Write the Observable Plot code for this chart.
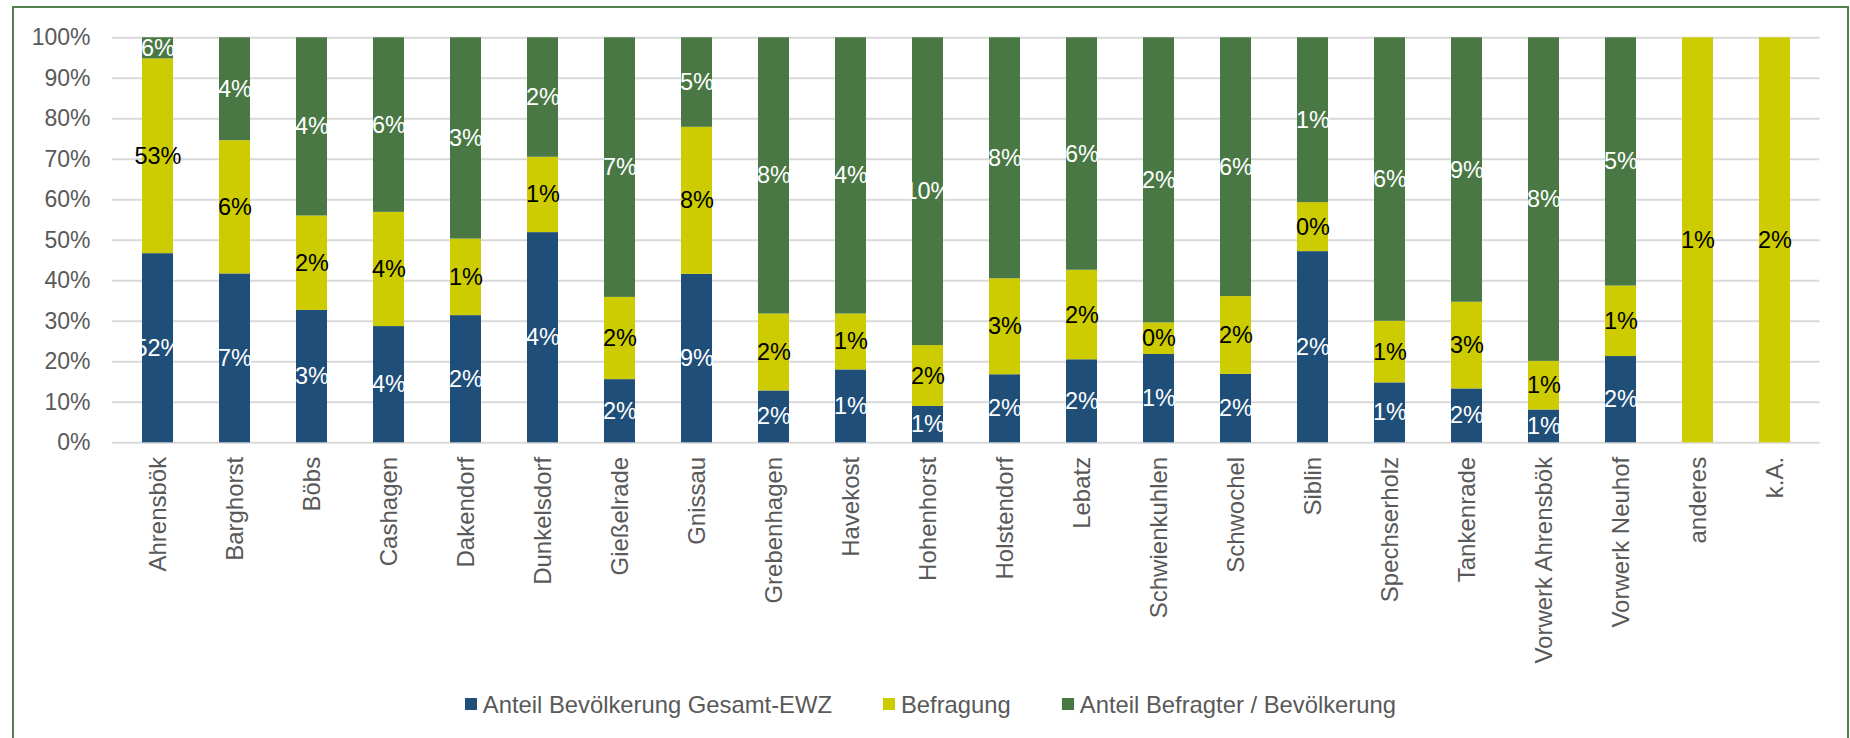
<!DOCTYPE html>
<html>
<head>
<meta charset="utf-8">
<script src="https://cdn.jsdelivr.net/npm/d3@7"></script>
<script src="https://cdn.jsdelivr.net/npm/@observablehq/plot@0.6"></script>
<style>
  html, body { margin: 0; padding: 0; background: #ffffff; }
  body { width: 1850px; height: 738px; overflow: hidden; position: relative; font-family: "Liberation Sans", Arial, sans-serif; }
  #chart { position: absolute; left: 0; top: 0; }
  #frame { position: absolute; left: 11.7px; top: 6.3px; width: 1837.6px; height: 800px; border: 2px solid #52804c; box-sizing: border-box; pointer-events: none; }
  #legend { position: absolute; left: 465.3px; top: 692.6px; height: 23.8px; display: flex; align-items: center; font-size: 23.8px; line-height: 1; color: #595959; white-space: nowrap; }
  #legend .item { display: flex; align-items: center; margin-right: 51.5px; }
  #legend .sw { width: 12px; height: 12px; margin-right: 5.5px; }
</style>
</head>
<body>
<div id="chart"></div>
<div id="legend"></div>
<div id="frame"></div>
<script>
// Categories (Ortsteile)
const categories = ["Ahrensbök", "Barghorst", "Böbs", "Cashagen", "Dakendorf", "Dunkelsdorf", "Gießelrade", "Gnissau", "Grebenhagen", "Havekost", "Hohenhorst", "Holstendorf", "Lebatz", "Schwienkuhlen", "Schwochel", "Siblin", "Spechserholz", "Tankenrade", "Vorwerk Ahrensbök", "Vorwerk Neuhof", "anderes", "k.A."];

// Series names
const seriesNames = ["Anteil Bevölkerung Gesamt-EWZ", "Befragung", "Anteil Befragter / Bevölkerung"];
const seriesColors = ["#1f4e79", "#cccc00", "#4a7845"];

// Segment heights as read from the 100% stacked columns (percent of column)
const blueShare   = [46.7, 41.7, 32.7, 28.7, 31.4, 51.9, 15.6, 41.6, 12.8, 18.0, 9.0, 16.8, 20.5, 21.8, 16.9, 47.2, 14.8, 13.3, 8.1, 21.3, 0, 0];
const yellowShare = [48.1, 32.9, 23.3, 28.2, 18.9, 18.6, 20.3, 36.3, 19.0, 13.8, 15.0, 23.7, 22.1, 7.8, 19.2, 12.1, 15.2, 21.4, 12.0, 17.4, 100, 100];
const greenShare  = [5.2, 25.4, 44.0, 43.1, 49.7, 29.5, 64.1, 22.1, 68.2, 68.2, 76.0, 59.5, 57.4, 70.4, 63.9, 40.7, 70.0, 65.3, 79.9, 61.3, 0, 0];

// Data labels printed on the segments (percent)
const blueLabel   = [52, 7, 3, 4, 2, 4, 2, 9, 2, 1, 1, 2, 2, 1, 2, 2, 1, 2, 1, 2, null, null];
const yellowLabel = [53, 6, 2, 4, 1, 1, 2, 8, 2, 1, 2, 3, 2, 0, 2, 0, 1, 3, 1, 1, 1, 2];
const greenLabel  = [6, 4, 4, 6, 3, 2, 7, 5, 8, 4, 10, 8, 6, 2, 6, 1, 6, 9, 8, 5, null, null];

// Y tick values (percent)
const yTicks = [0, 10, 20, 30, 40, 50, 60, 70, 80, 90, 100];

const shares = [blueShare, yellowShare, greenShare];
const labels = [blueLabel, yellowLabel, greenLabel];
const rows = [];
categories.forEach((cat, i) => {
  seriesNames.forEach((s, k) => {
    rows.push({cat, series: s, share: shares[k][i], label: labels[k][i]});
  });
});

const font = '"Liberation Sans", Arial, sans-serif';
const isYellow = d => d.series === seriesNames[1];

const plot = Plot.plot({
  width: 1850,
  height: 690,
  marginLeft: 112,
  marginRight: 30.5,
  marginTop: 37.3,
  marginBottom: 247.7,
  style: {fontFamily: font, background: "none"},
  x: {domain: categories, paddingInner: 0.6, paddingOuter: 0.3, axis: null},
  y: {domain: [0, 100], axis: null},
  color: {domain: seriesNames, range: seriesColors},
  marks: [
    Plot.ruleY(yTicks, {stroke: "#d9d9d9", strokeWidth: 2}),
    Plot.barY(rows, {x: "cat", y: "share", fill: "series"}),
    Plot.text(rows, Plot.stackY({
      x: "cat", y: "share", z: "series",
      text: d => (!isYellow(d) && d.label != null) ? d.label + "%" : null,
      fill: "white", fontSize: 23.5, fontFamily: font
    })),
    Plot.text(rows, Plot.stackY({
      x: "cat", y: "share", z: "series",
      text: d => (isYellow(d) && d.label != null) ? d.label + "%" : null,
      fill: "black", fontSize: 23.5, fontFamily: font
    })),
    Plot.axisY(yTicks, {tickFormat: d => d + "%", tickSize: 0, tickPadding: 22, fontSize: 23, fill: "#595959", label: null}),
    Plot.axisX({tickRotate: -90, tickSize: 0, tickPadding: 14, fontSize: 24, fill: "#595959", label: null})
  ]
});
document.getElementById("chart").appendChild(plot);

// Legend
const legend = document.getElementById("legend");
seriesNames.forEach((s, k) => {
  const item = document.createElement("div");
  item.className = "item";
  const sw = document.createElement("div");
  sw.className = "sw";
  sw.style.background = seriesColors[k];
  const t = document.createElement("span");
  t.textContent = s;
  item.appendChild(sw);
  item.appendChild(t);
  legend.appendChild(item);
});
</script>
</body>
</html>
